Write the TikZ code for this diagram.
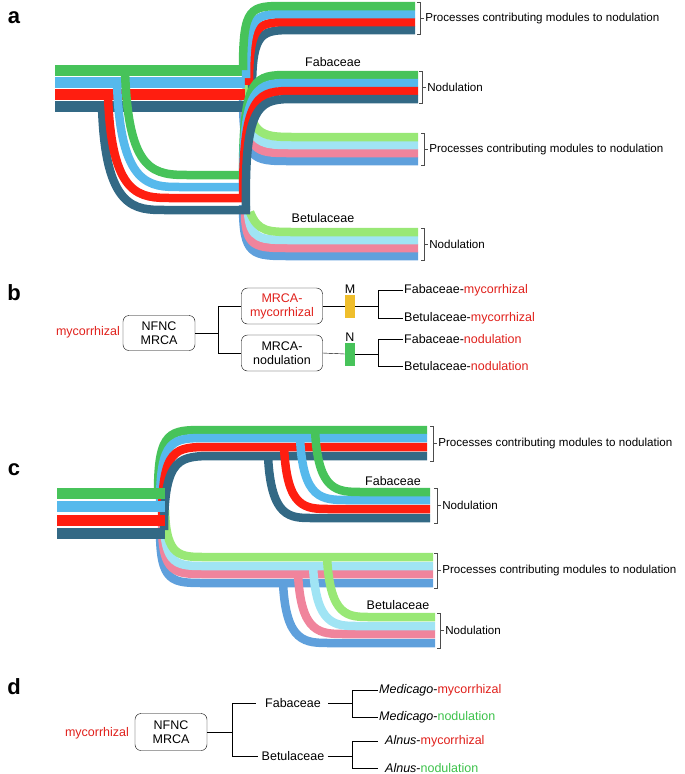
\documentclass[tikz,border=0pt]{standalone}
\usepackage{fontspec}
\setmainfont{Liberation Sans}
\usetikzlibrary{positioning}
\definecolor{cgreen}{HTML}{47C35A}
\definecolor{cblue}{HTML}{56B9EC}
\definecolor{cred}{HTML}{FF1E10}
\definecolor{cdark}{HTML}{336985}
\definecolor{plgreen}{HTML}{99E876}
\definecolor{plblue}{HTML}{A0E4F4}
\definecolor{plpink}{HTML}{F0849C}
\definecolor{plmid}{HTML}{5FA0DC}
\definecolor{txtred}{HTML}{E0201B}
\definecolor{txtgreen}{HTML}{3CC24A}
\definecolor{barY}{HTML}{EFBE2C}
\newcommand{\grpbrace}[5]{% name, x, top, bottom, label
  \draw[brace] (#2-3,#3) -- (#2,#3) -- (#2,#4) -- (#2-3,#4);
  \draw[brace] (#2,#3/2+#4/2) -- (#2+4,#3/2+#4/2) node (#1) [right,inner sep=1pt,font=\fontsize{11.6}{13}\selectfont] {#5};
}
\begin{document}
\begin{tikzpicture}[x=1pt,y=-1pt,
  trunk/.style={line width=11pt,#1},
  strand/.style={line width=8.5pt,#1},
  brace/.style={draw=black!70,line width=0.7pt},
  box/.style={draw,rounded corners=6pt,align=center,inner sep=4pt,font=\fontsize{12.5}{14}\selectfont},
  leaf/.style={anchor=west,inner sep=1pt,font=\fontsize{12.5}{14}\selectfont},
  fam/.style={font=\fontsize{12.5}{14}\selectfont},
  letter/.style={font=\bfseries\fontsize{22}{24}\selectfont}]
\useasboundingbox (0,0) rectangle (685,774);

% panel letters
\node (la) [letter] at (14,18) {a};
\node (lb) [letter] at (14,293) {b};
\node (lc) [letter] at (14,470) {c};
\node (ld) [letter] at (14,687) {d};

% a: pale processes and Betulaceae
\draw[strand=plmid] (243,96) .. controls (243,161) and (252,161) .. (290,161) -- (418,161);
\draw[strand=plpink] (245,90) .. controls (245,153) and (255,153) .. (290,153) -- (418,153);
\draw[strand=plblue] (246,84) .. controls (246,145) and (258,145) .. (292,145) -- (418,145);
\draw[strand=plgreen] (247,75) .. controls (247,137) and (260,137) .. (295,137) -- (418,137);
\draw[strand=plmid] (243,205) .. controls (243,256) and (252,256) .. (290,256) -- (418,256);
\draw[strand=plpink] (245,210) .. controls (245,248) and (255,248) .. (290,248) -- (418,248);
\draw[strand=plblue] (248,212) .. controls (250,240) and (260,240) .. (292,240) -- (418,240);
\draw[strand=plgreen] (250,212) .. controls (258,232) and (268,232) .. (295,232) -- (418,232);

% a: trunk and drops
\foreach \c/\y in {cgreen/70,cblue/82,cred/94,cdark/106}
  \draw[trunk=\c] (55,\y) -- (245,\y);
\draw[strand=cdark] (102,106) .. controls (105,210) and (135,210) .. (165,210) -- (250,210);
\draw[strand=cred] (108,94) .. controls (111,198) and (140,198) .. (172,198) -- (245,198);
\draw[strand=cblue] (117,82) .. controls (120,187) and (150,187) .. (180,187) -- (245,187);
\draw[strand=cgreen] (125,70) .. controls (128,175) and (155,175) .. (190,175) -- (245,175);

% a: top processes
\draw[strand=cdark] (252,90) .. controls (252,30) and (262,30) .. (295,30) -- (415,30);
\draw[strand=cred] (249,85) .. controls (249,22) and (258,22) .. (292,22) -- (415,22);
\draw[strand=cblue] (246,78) .. controls (246,14) and (255,14) .. (288,14) -- (415,14);
\draw[strand=cgreen] (243,70) .. controls (243,6) and (250,6) .. (285,6) -- (415,6);

% a: Fabaceae nodulation
\draw[strand=cgreen] (243,175) .. controls (243,75) and (255,75) .. (290,75) -- (418,75);
\draw[strand=cblue] (243,187) .. controls (243,83) and (257,83) .. (292,83) -- (418,83);
\draw[strand=cred] (243,198) .. controls (243,91) and (259,91) .. (294,91) -- (418,91);
\draw[strand=cdark] (246,210) .. controls (244,99) and (261,99) .. (296,99) -- (418,99);

\node (fabA) [fam] at (333,62) {Fabaceae};
\node (betA) [fam] at (323,218) {Betulaceae};
\grpbrace{procA1}{420}{2}{34}{Processes contributing modules to nodulation}
\grpbrace{nodA1}{422}{71}{103}{Nodulation}
\grpbrace{procA2}{424}{133}{165}{Processes contributing modules to nodulation}
\grpbrace{nodA2}{424}{228}{260}{Nodulation}

% b
\node (mycB) [text=txtred,fam] at (88,332) {mycorrhizal};
\node (rootB) [box,minimum width=72pt,minimum height=35pt] at (159,333) {NFNC\\MRCA};
\node (mrcaM) [box,text=txtred,minimum width=81pt,minimum height=36pt] at (282,306) {MRCA-\\mycorrhizal};
\node (mrcaN) [box,minimum width=81pt,minimum height=36pt] at (282,353) {MRCA-\\nodulation};
\node (barM) [fill=barY,minimum width=10pt,minimum height=23pt,inner sep=0pt,
  label={[fam,inner sep=1pt]above:M}] at (350,306) {};
\node (barN) [fill=cgreen,minimum width=10pt,minimum height=23pt,inner sep=0pt,
  label={[fam,inner sep=1pt]above:N}] at (350,354) {};
\node (fmB) [leaf] at (403,290) {Fabaceae-\textcolor{txtred}{mycorrhizal}};
\node (bmB) [leaf] at (403,318) {Betulaceae-\textcolor{txtred}{mycorrhizal}};
\node (fnB) [leaf] at (403,339) {Fabaceae-\textcolor{txtred}{nodulation}};
\node (bnB) [leaf] at (403,366) {Betulaceae-\textcolor{txtred}{nodulation}};
\draw (rootB.east) -- ++(23,0) |- (mrcaM.west);
\draw (rootB.east) -- ++(23,0) |- (mrcaN.west);
\draw (mrcaM.east) -- (barM.west);
\draw (mrcaN.east) -- (barN.west);
\draw (barM.east) -- ++(23,0) |- (fmB.west);
\draw (barM.east) -- ++(23,0) |- (bmB.west);
\draw (barN.east) -- ++(23,0) |- (fnB.west);
\draw (barN.east) -- ++(23,0) |- (bnB.west);

% c: lower bundle
\draw[strand=plmid] (160,530) .. controls (160,583) and (172,583) .. (205,583) -- (433,583);
\draw[strand=plpink] (162,524) .. controls (162,574) and (175,574) .. (205,574) -- (433,574);
\draw[strand=plblue] (164,518) .. controls (164,566) and (177,566) .. (205,566) -- (433,566);
\draw[strand=plgreen] (165,510) .. controls (166,557) and (180,557) .. (205,557) -- (433,557);
% c: top bundle
\draw[strand=cgreen] (158,493) .. controls (158,430) and (170,430) .. (205,430) -- (427,430);
\draw[strand=cblue] (160,506) .. controls (160,438) and (172,438) .. (207,438) -- (427,438);
\draw[strand=cred] (162,520) .. controls (162,447) and (175,447) .. (210,447) -- (427,447);
\draw[strand=cdark] (164,530) .. controls (164,456) and (180,456) .. (215,456) -- (427,456);
% c: trunk
\foreach \c/\y in {cgreen/493,cblue/506,cred/520,cdark/533}
  \draw[trunk=\c] (57,\y) -- (165,\y);
% c: Fabaceae drops
\draw[strand=cdark] (268,456) .. controls (271,518) and (290,518) .. (312,518) -- (430,518);
\draw[strand=cred] (284,447) .. controls (287,509) and (305,509) .. (330,509) -- (430,509);
\draw[strand=cblue] (300,438) .. controls (303,500) and (322,500) .. (348,500) -- (430,500);
\draw[strand=cgreen] (315,430) .. controls (318,492) and (337,492) .. (362,492) -- (430,492);
% c: Betulaceae drops
\draw[strand=plmid] (283,583) .. controls (286,643) and (305,643) .. (330,643) -- (435,643);
\draw[strand=plpink] (298,574) .. controls (301,634) and (320,634) .. (345,634) -- (435,634);
\draw[strand=plblue] (313,566) .. controls (316,626) and (335,626) .. (358,626) -- (435,626);
\draw[strand=plgreen] (327,557) .. controls (330,617) and (348,617) .. (370,617) -- (435,617);

\node (fabC) [fam] at (393,481) {Fabaceae};
\node (betC) [fam] at (398,605) {Betulaceae};
\grpbrace{procC1}{433}{426}{461}{Processes contributing modules to nodulation}
\grpbrace{nodC1}{437}{488}{523}{Nodulation}
\grpbrace{procC2}{437}{553}{588}{Processes contributing modules to nodulation}
\grpbrace{nodC2}{440}{613}{648}{Nodulation}

% d
\node (mycD) [text=txtred,fam] at (97,733) {mycorrhizal};
\node (rootD) [box,minimum width=72pt,minimum height=37pt] at (171,732) {NFNC\\MRCA};
\node (fabD) [fam] at (293,703) {Fabaceae};
\node (betD) [fam] at (293,756) {Betulaceae};
\node (medM) [leaf] at (378,690) {\textit{Medicago}-\textcolor{txtred}{mycorrhizal}};
\node (medN) [leaf] at (378,717) {\textit{Medicago}-\textcolor{txtgreen}{nodulation}};
\node (alnM) [leaf] at (384,741) {\textit{Alnus}-\textcolor{txtred}{mycorrhizal}};
\node (alnN) [leaf] at (384,768) {\textit{Alnus}-\textcolor{txtgreen}{nodulation}};
\draw (rootD.east) -- ++(25,0) |- ([xshift=-6pt]fabD.west);
\draw (rootD.east) -- ++(25,0) |- (betD.west);
\draw ([xshift=4pt]fabD.east) -- ++(24,0) |- (medM.west);
\draw ([xshift=4pt]fabD.east) -- ++(24,0) |- (medN.west);
\draw (betD.east) -- ++(24,0) |- ([xshift=-6pt]alnM.west);
\draw (betD.east) -- ++(24,0) |- ([xshift=-6pt]alnN.west);
\end{tikzpicture}
\end{document}
